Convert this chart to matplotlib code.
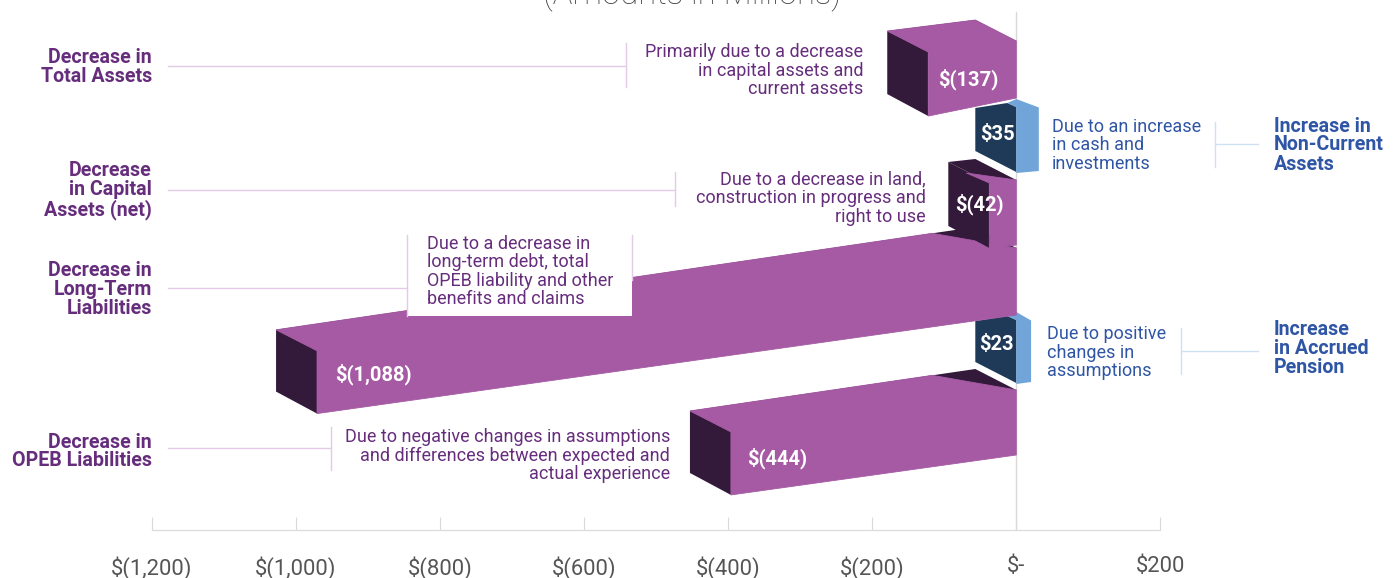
import matplotlib
matplotlib.use('Agg')
import matplotlib.pyplot as plt

plt.rcParams['font.family'] = ['Roboto', 'DejaVu Sans']

# data
decrease_values = [-137, -42, -1088, -444]
increase_values = [35, 23]
decrease_labels = ['$(137)', '$(42)', '$(1,088)', '$(444)']
increase_labels = ['$35', '$23']
tick_values = [-1200, -1000, -800, -600, -400, -200, 0, 200]
tick_labels = ['$(1,200)', '$(1,000)', '$(800)', '$(600)', '$(400)', '$(200)', '$-', '$200']

left_titles = ['Decrease in\nTotal Assets', 'Decrease\nin Capital\nAssets (net)',
               'Decrease in\nLong-Term\nLiabilities', 'Decrease in\nOPEB Liabilities']
right_titles = ['Increase in\nNon-Current\nAssets', 'Increase\nin Accrued\nPension']
left_notes = ['Primarily due to a decrease\nin capital assets and\ncurrent assets',
              'Due to a decrease in land,\nconstruction in progress and\nright to use',
              'Due to a decrease in\nlong-term debt, total\nOPEB liability and other\nbenefits and claims',
              'Due to negative changes in assumptions\nand differences between expected and\nactual experience']
right_notes = ['Due to an increase\nin cash and\ninvestments', 'Due to positive\nchanges in\nassumptions']

# layout, y in pixels from the top
PX = 144.1 / 200      # axis pixels per unit
PERSPECTIVE = 0.892   # bars sit behind the axis plane, so they draw shorter
DEPTH = 41 / PX       # side depth in axis units
ZERO_PX = 1016.3
dec_top = [41, 180, 248, 390]
dec_bot = [98, 245, 315, 455]
dec_slope_top = [0.125, 0.11, 0.147, 0.147]
dec_slope_bot = [0.205, 0.11, 0.141, 0.14]
dec_shadow = [0, 0, 43, 43]
dec_zorder = [6, 6, 4, 2]
inc_top = [107, 320]
inc_bot = [173, 384]
inc_zorder = [3, 3]

PURPLE = '#a55aa3'
DARK = '#33193a'
NAVY = '#1f3a58'
BLUE = '#71a5d9'
TEXT_PURPLE = '#662d7c'
TEXT_BLUE = '#2f55a5'
LINE_PURPLE = '#e3cbe7'
LINE_BLUE = '#cfe0f1'

fig = plt.figure(figsize=(14, 5.78), dpi=100)
ax = fig.add_axes([0, 48 / 578, 1, 530 / 578])
ax.set_xlim(-ZERO_PX / PX, (1400 - ZERO_PX) / PX)
ax.set_ylim(530, 0)
for s in ['top', 'left', 'right']:
    ax.spines[s].set_visible(False)
ax.spines['bottom'].set_bounds(-1200, 200)
ax.spines['bottom'].set_color('#d9d9d9')
ax.set_yticks([])
ax.set_xticks(tick_values, tick_labels)
ax.tick_params(axis='x', direction='in', length=9.5, color='#d9d9d9', pad=19,
               labelsize=15.8, labelcolor='#555555')
ax.axvline(0, ymin=0, ymax=518 / 530, color='#d9d9d9', lw=1, zorder=1)


def to_x(px):
    return (px - ZERO_PX) / PX


def draw_decrease(i, value):
    x_front = value * PERSPECTIVE
    length = abs(x_front) * PX
    rt, rb = dec_top[i], dec_bot[i]
    lt = rt + dec_slope_top[i] * length
    lb = rb + dec_slope_bot[i] * length
    z = dec_zorder[i]
    back_lt = (x_front - DEPTH, lt - 21)
    back_lb = (x_front - DEPTH, lb - 22)
    back_rt = (-DEPTH, rt - 21)
    # whole top and side in dark, lit parts on top of it
    ax.fill(*zip(back_lt, back_rt, (0, rt), (x_front, lt)), color=DARK, lw=0, zorder=z)
    ax.fill(*zip(back_lt, (x_front, lt), (x_front, lb), back_lb), color=DARK, lw=0, zorder=z)
    ax.fill(*zip((x_front, lt), (0, rt), (0, rb), (x_front, lb)), color=PURPLE, lw=0.6, zorder=z)
    if value == -42:
        # this one has nearly all of the top in shadow
        lit = [(-50 / PX, rt - 7), (0, rt), (x_front, lt)]
    else:
        s = dec_shadow[i] / PX
        frac = s / (abs(x_front))
        q = (-DEPTH - s, back_rt[1] + (back_lt[1] - back_rt[1]) * frac)
        lit = [back_lt, q, (0, rt), (x_front, lt)]
    ax.fill(*zip(*lit), color=PURPLE, lw=0.6, zorder=z)


def draw_increase(i, value):
    x_end = value * PERSPECTIVE
    rt, rb = inc_top[i], inc_bot[i]
    z = inc_zorder[i]
    ax.fill(*zip((-DEPTH, rt + 1), (-9 / PX, rt - 4), (0, rt), (0, rb - 1), (-DEPTH, rb - 22)),
            color=NAVY, lw=0, zorder=z)
    ax.fill(*zip((-9 / PX, rt - 4), (0, rt - 8), (x_end, rt + 0.5), (x_end, rb - 2), (0, rb), (0, rt)),
            color=BLUE, lw=0, zorder=z)


for i, v in enumerate(decrease_values):
    draw_decrease(i, v)
for i, v in enumerate(increase_values):
    draw_increase(i, v)

# white note box cut out of the long bar
ax.fill([to_x(407), to_x(632), to_x(632), to_x(407)], [235, 235, 316, 316], color='white', lw=0, zorder=7)

# leader lines
hlines = [(168, 626, 66), (168, 675, 190), (168, 407, 288), (168, 331, 448)]
vlines = [(626, 43, 87), (675, 172, 206), (407, 235, 316), (632, 235, 280), (331, 427, 470)]
for a, b, y in hlines:
    ax.plot([to_x(a), to_x(b)], [y, y], color=LINE_PURPLE, lw=1, zorder=8)
for x, a, b in vlines:
    ax.plot([to_x(x), to_x(x)], [a, b], color=LINE_PURPLE, lw=1, zorder=8)
for a, b, y in [(1215, 1258, 144), (1181, 1258, 351)]:
    ax.plot([to_x(a), to_x(b)], [y, y], color=LINE_BLUE, lw=1, zorder=8)
for x, a, b in [(1215, 122, 167), (1181, 328, 374)]:
    ax.plot([to_x(x), to_x(x)], [a, b], color=LINE_BLUE, lw=1, zorder=8)

# text
for s, y in zip(left_titles, [67, 190.5, 289.5, 451.5]):
    ax.text(to_x(152), y, s, ha='right', va='center', ma='right', fontsize=14.1, fontweight='bold',
            color=TEXT_PURPLE, linespacing=1.0, zorder=9)
for s, y in zip(right_titles, [145, 348.5]):
    ax.text(to_x(1274), y, s, ha='left', va='center', fontsize=14.1, fontweight='bold',
            color=TEXT_BLUE, linespacing=1.0, zorder=9)
for s, x, y, ha in zip(left_notes, [863, 926, 427, 670], [70.5, 198, 271.5, 455.5],
                       ['right', 'right', 'left', 'right']):
    ax.text(to_x(x), y, s, ha=ha, va='center', ma=ha, fontsize=13.0, color=TEXT_PURPLE,
            linespacing=1.04, zorder=9)
for s, x, y in zip(right_notes, [1052, 1047], [145.5, 352.5]):
    ax.text(to_x(x), y, s, ha='left', va='center', fontsize=13.0, color=TEXT_BLUE,
            linespacing=1.04, zorder=9)
for s, x, y in zip(decrease_labels, [968, 979, 373, 777], [79, 204, 374, 458]):
    ax.text(to_x(x), y, s, ha='center', va='center', fontsize=14.5, fontweight='bold',
            color='white', zorder=9)
for s, x, y in zip(increase_labels, [997, 996], [135, 345]):
    ax.text(to_x(x), y, s, ha='center', va='center', fontsize=14.5, fontweight='bold',
            color='white', zorder=9)

fig.text(692.5 / 1400, 1 - 4 / 578, '(Amounts in Millions)', ha='center', va='baseline',
         fontsize=23.7, color='#444444', fontweight='light')

fig.savefig('out.png', dpi=100)
